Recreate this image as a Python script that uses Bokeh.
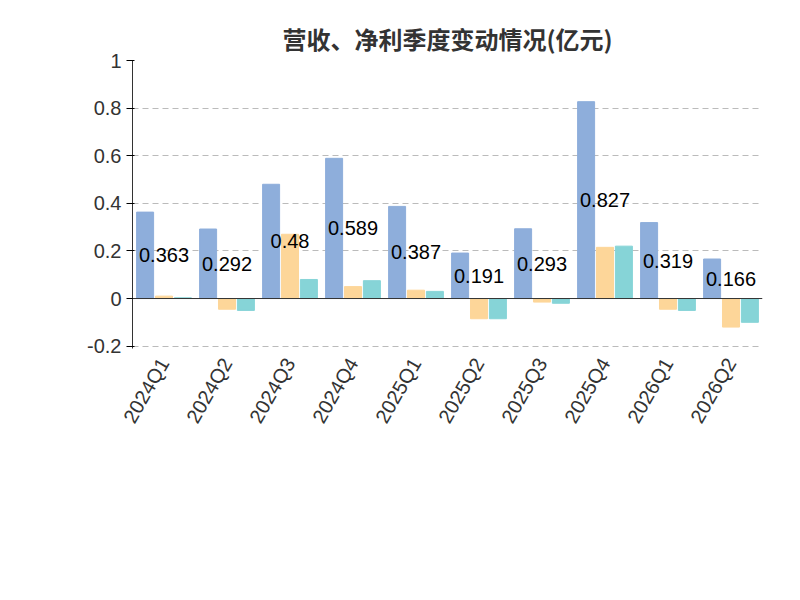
import math
from bokeh.plotting import figure
from bokeh.models import ColumnDataSource, FixedTicker, Span, Legend, LegendItem, Label, Title, Range1d
from bokeh.embed import file_html
from bokeh.resources import INLINE

quarters = ["2024Q1","2024Q2","2024Q3","2024Q4","2025Q1","2025Q2","2025Q3","2025Q4","2026Q1","2026Q2"]
revenue = [0.363,0.292,0.48,0.589,0.387,0.191,0.293,0.827,0.319,0.166]
net_profit = [0.01,-0.045,0.27,0.05,0.035,-0.085,-0.015,0.215,-0.045,-0.12]
net_deducted = [0.003,-0.05,0.08,0.075,0.03,-0.085,-0.02,0.22,-0.05,-0.1]
rev_labels = ["0.363","0.292","0.48","0.589","0.387","0.191","0.293","0.827","0.319","0.166"]

x = list(range(len(quarters)))
src = ColumnDataSource(dict(
    x=x, x1=[i-0.3 for i in x], x2=x, x3=[i+0.3 for i in x],
    rev=revenue, np=net_profit, nd=net_deducted,
    mid=[v/2 for v in revenue], lab=rev_labels))

p = figure(frame_width=630, frame_height=288, output_backend="svg", toolbar_location=None,
           x_range=Range1d(-0.5, 9.5), y_range=Range1d(-0.21, 1.0),
           min_border_left=132, min_border_right=22, min_border_top=60, min_border_bottom=0)
p.title.text = "营收、净利季度变动情况(亿元)"
p.title.align = "center"
p.title.text_font_size = "24px"
p.title.text_color = "#333333"
p.title.text_font = "Noto Sans CJK SC"
p.title.offset = -60

c1, c2, c3 = "#8eaedb", "#fdd699", "#86d4d7"
r1 = p.vbar(x="x1", top="rev", width=0.27, color=c1, source=src)
r2 = p.vbar(x="x2", top="np", width=0.27, color=c2, source=src)
r3 = p.vbar(x="x3", top="nd", width=0.27, color=c3, source=src)
p.text(x="x", y="mid", text="lab", source=src, text_align="center", text_baseline="middle",
       text_font_size="20px", text_color="#000000")

p.add_layout(Span(location=0, dimension="width", line_color="#333333", line_width=1))

p.xaxis.ticker = FixedTicker(ticks=x)
p.xaxis.major_label_overrides = {i: q for i, q in enumerate(quarters)}
p.xaxis.major_label_orientation = math.pi/3
p.xaxis.major_label_text_font_size = "20px"
p.xaxis.major_label_text_color = "#333333"
p.xaxis.axis_line_color = None
p.xaxis.major_tick_line_color = None
p.xaxis.minor_tick_line_color = None

p.yaxis.ticker = FixedTicker(ticks=[-0.2,0,0.2,0.4,0.6,0.8,1])
p.yaxis.major_label_overrides = {-0.2:"-0.2",0:"0",0.2:"0.2",0.4:"0.4",0.6:"0.6",0.8:"0.8",1:"1"}
p.yaxis.major_label_text_font_size = "20px"
p.yaxis.major_label_text_color = "#333333"
p.yaxis.minor_tick_line_color = None
p.yaxis.axis_line_color = "#333333"

p.xgrid.grid_line_color = None
p.ygrid.grid_line_color = "#bbbbbb"
p.ygrid.grid_line_dash = "6 4"
p.outline_line_color = None

p.add_layout(Label(x=-72, y=285, x_units="screen", y_units="screen", text="(亿元)",
                   angle=-math.pi/2, text_color="red", text_font_size="15px",
                   text_font="Noto Sans CJK SC"))

legend = Legend(items=[LegendItem(label="营业总收入", renderers=[r1]),
                       LegendItem(label="归母净利润", renderers=[r2]),
                       LegendItem(label="扣非净利润", renderers=[r3])],
                orientation="horizontal", location="center",
                label_text_font_size="20px", label_text_font="Noto Sans CJK SC",
                label_text_color="#333333", glyph_width=50, glyph_height=28,
                spacing=20, border_line_color=None, margin=25)
p.add_layout(legend, "below")
p.add_layout(Title(text="制图数据来自恒生聚源数据库", align="center", text_color="#c8961e",
                   text_font_size="15px", text_font_style="normal",
                   text_font="Noto Sans CJK SC"), "below")

open("out.html", "w").write(file_html(p, INLINE))
